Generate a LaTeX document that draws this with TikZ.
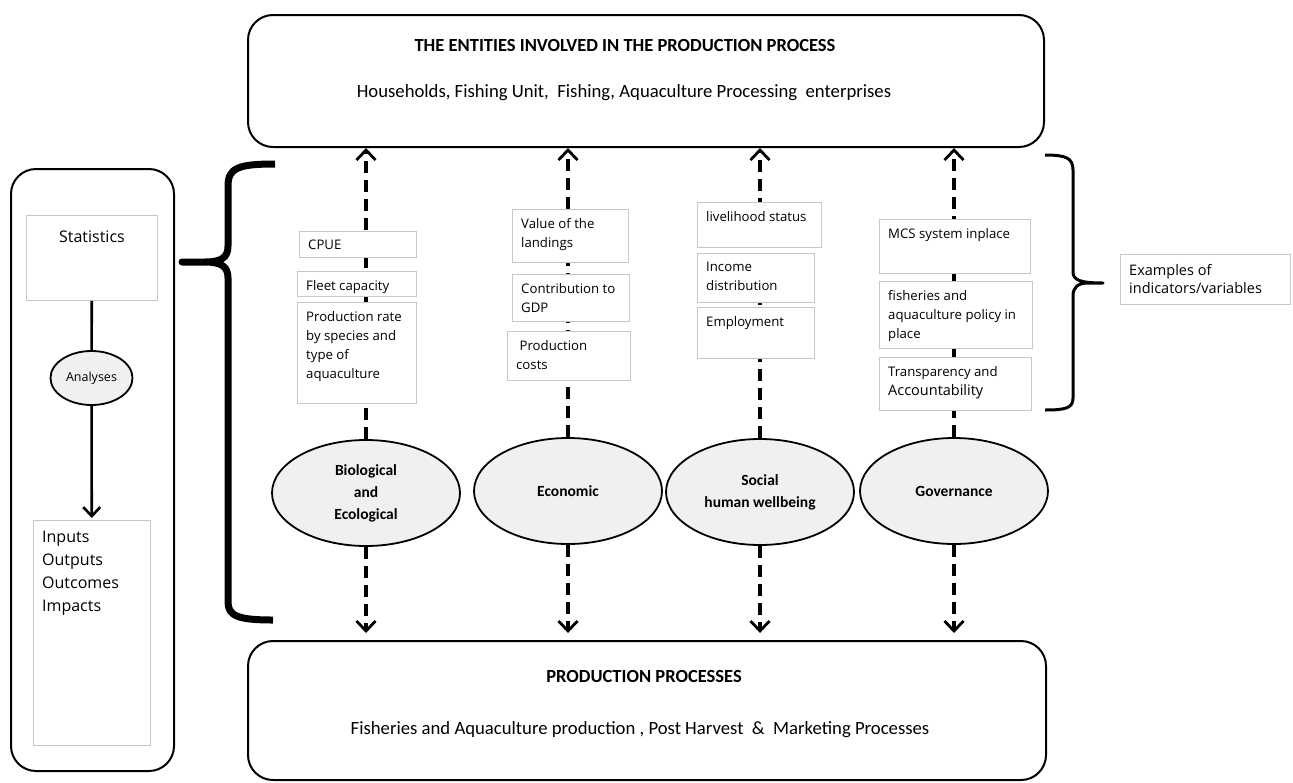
\documentclass[tikz,border=0pt]{standalone}
\usepackage{fontspec}
\setmainfont{Carlito}
\newfontfamily\boxfont{Open Sans}
\usetikzlibrary{arrows.meta, shapes.geometric, positioning}

\tikzset{
  roundbox/.style={draw, line width=2pt, rounded corners=25pt, anchor=north west, inner sep=0pt},
  ibox/.style={draw=black!22, line width=0.9pt, fill=white, anchor=north west, inner sep=0pt},
  itext/.style={anchor=north west, align=left, inner sep=0pt, xshift=9pt, yshift=-9pt,
    font=\boxfont\fontsize{13.2}{19}\selectfont},
  theme/.style={ellipse, draw, line width=1.8pt, fill=black!6, minimum width=188pt,
    minimum height=106pt, align=center, font=\bfseries\fontsize{15.5}{22}\selectfont},
  dasharrow/.style={line width=3.8pt, dash pattern=on 12pt off 7pt,
    -{Straight Barb[length=10pt,width=19pt,line width=2.8pt]}},
  solidarrow/.style={line width=2.6pt, -{Straight Barb[length=9pt,width=17pt,line width=2.6pt]}},
}

\begin{document}
\begin{tikzpicture}[x=1pt, y=-1pt]
  \useasboundingbox (0,0) rectangle (1293,782);

  % entities and processes
  \node[roundbox, minimum width=796pt, minimum height=132pt] (top) at (247,14) {};
  \node[font=\bfseries\fontsize{18.5}{22}\selectfont] (toptitle) at (625,45) {THE ENTITIES INVOLVED IN THE PRODUCTION PROCESS};
  \node[font=\fontsize{18.7}{22}\selectfont] (topsub) at (624,93) {Households, Fishing Unit,\ \ Fishing, Aquaculture Processing\ \ enterprises};

  \node[roundbox, minimum width=798pt, minimum height=139pt] (bot) at (247,640) {};
  \node[font=\bfseries\fontsize{18.5}{22}\selectfont] (bottitle) at (644,676) {PRODUCTION PROCESSES};
  \node[font=\fontsize{18.7}{22}\selectfont] (botsub) at (640,730) {Fisheries and Aquaculture production , Post Harvest\ \ \&\ \ Marketing Processes};

  % left panel
  \node[roundbox, minimum width=163pt, minimum height=602pt] (panel) at (10,168) {};
  \node[ibox, minimum width=131pt, minimum height=85pt,
    label={[anchor=north, yshift=-12pt, font=\boxfont\fontsize{16}{24}\selectfont]north:Statistics}] (stats) at (26,215) {};
  \node[ellipse, draw, line width=1.8pt, fill=black!6, minimum width=82pt, minimum height=54pt,
    font=\boxfont\fontsize{12.5}{14}\selectfont] (anal) at (91.5,378) {Analyses};
  \node[ibox, minimum width=117pt, minimum height=225pt,
    label={[itext, yshift=-2pt, font=\boxfont\fontsize{16}{23}\selectfont]north west:{Inputs\\Outputs\\Outcomes\\Impacts}}] (inputs) at (33,520) {};
  \draw[line width=2.6pt] (stats) -- (anal);
  \draw[solidarrow, shorten >=2pt] (anal) -- (inputs);

  % braces
  \draw[line width=7pt, line join=round] (275,164) .. controls (238,164) and (228,168) .. (228,186)
    -- (228,246) .. controls (228,257) and (222,262) .. (205,262) -- (182,262) -- (205,262)
    .. controls (222,262) and (228,267) .. (228,278) -- (228,602)
    .. controls (228,616) and (238,620) .. (273,620);
  \draw[line width=3pt, line join=round] (1045,155) .. controls (1066,155) and (1073,158) .. (1073,170)
    -- (1073,272) .. controls (1073,280) and (1080,283) .. (1103,283) -- (1088,283)
    .. controls (1078,283) and (1073,287) .. (1073,296) -- (1073,398)
    .. controls (1073,408) and (1066,410) .. (1045,410);
  \node[ibox, minimum width=170pt, minimum height=50pt,
    label={[itext, yshift=-1pt, font=\boxfont\fontsize{14.5}{18}\selectfont]north west:{Examples of\\indicators/variables}}] (examples) at (1120,254) {};

  % dimensions
  \node[theme] (bio) at (366,493) {Biological\\and\\Ecological};
  \node[theme] (eco) at (568,491) {Economic};
  \node[theme] (soc) at (760,492) {Social\\human wellbeing};
  \node[theme] (gov) at (954,491) {Governance};

  \foreach \d in {bio, eco, soc, gov} {
    \draw[dasharrow] (\d) -- (\d |- top.south);
    \draw[dasharrow, shorten >=7pt] (\d) -- (\d |- bot.north);
  }

  % indicators
  \node[ibox, minimum width=117pt, minimum height=26pt, label={[itext]north west:CPUE}] (cpue) at (299,231) {};
  \node[ibox, minimum width=119pt, minimum height=25pt, label={[itext]north west:Fleet capacity}] (fleet) at (297,271) {};
  \node[ibox, minimum width=119pt, minimum height=101pt,
    label={[itext]north west:{Production rate\\by species and\\type of\\aquaculture}}] (prodrate) at (297,302) {};

  \node[ibox, minimum width=116pt, minimum height=53pt,
    label={[itext]north west:{Value of the\\landings}}] (value) at (512,209) {};
  \node[ibox, minimum width=117pt, minimum height=47pt,
    label={[itext]north west:{Contribution to\\GDP}}] (gdp) at (512,274) {};
  \node[ibox, minimum width=123pt, minimum height=49pt,
    label={[itext]north west:{\ Production\\costs}}] (costs) at (507,331) {};

  \node[ibox, minimum width=124pt, minimum height=45pt, label={[itext]north west:livelihood status}] (liveli) at (697,202) {};
  \node[ibox, minimum width=117pt, minimum height=49pt,
    label={[itext]north west:{Income\\distribution}}] (income) at (697,253) {};
  \node[ibox, minimum width=117pt, minimum height=51pt, label={[itext]north west:Employment}] (employ) at (697,307) {};

  \node[ibox, minimum width=151pt, minimum height=54pt, label={[itext]north west:MCS system inplace}] (mcs) at (879,219) {};
  \node[ibox, minimum width=153pt, minimum height=67pt,
    label={[itext]north west:{fisheries and\\aquaculture policy in\\place}}] (policy) at (879,281) {};
  \node[ibox, minimum width=152pt, minimum height=53pt,
    label={[itext]north west:{Transparency and\\{\fontsize{14.5}{19}\selectfont Accountability}}}] (transp) at (879,357) {};
\end{tikzpicture}
\end{document}
